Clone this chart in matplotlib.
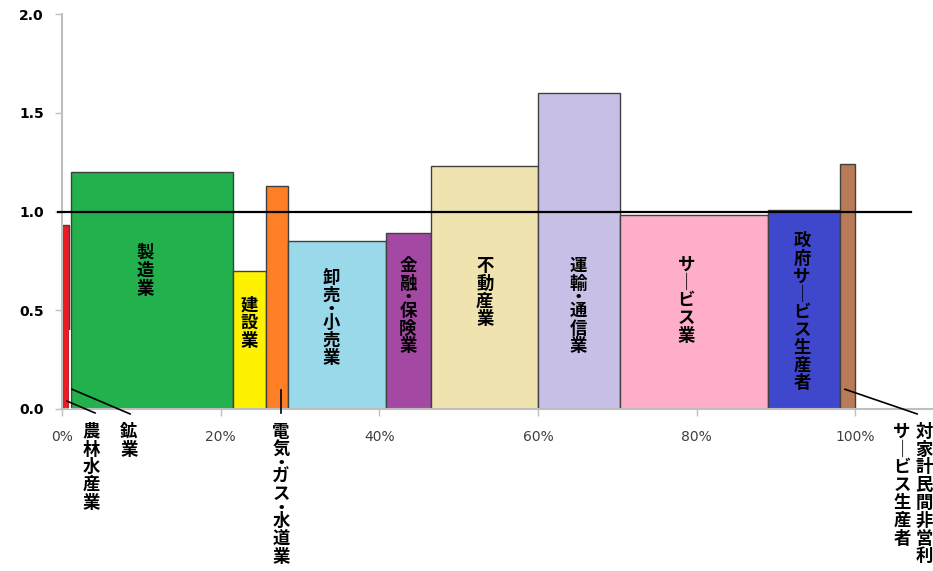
import numpy as np
import matplotlib
matplotlib.use("Agg")
import matplotlib.pyplot as plt

plt.rcParams["font.family"] = ["Noto Sans CJK JP", "DejaVu Sans"]

# industries, share of output (%), and ratio
industries = ["農林水産業", "鉱業", "製造業", "建設業", "電気・ガス・水道業", "卸売・小売業",
              "金融・保険業", "不動産業", "運輸・通信業", "サービス業", "政府サービス生産者",
              "対家計民間非営利サービス生産者"]
shares = [0.92, 0.21, 20.40, 4.20, 2.81, 12.32, 5.63, 13.57, 10.31, 18.66, 9.08, 1.89]
ratios = [0.93, 0.40, 1.20, 0.70, 1.13, 0.85, 0.89, 1.23, 1.60, 0.98, 1.01, 1.24]
colors = ["#ED1C24", "#FFFFFF", "#22B14C", "#FFF200", "#FF7F27", "#99D9EA",
          "#A349A4", "#EFE4B0", "#C8BFE7", "#FFAEC9", "#3F48CC", "#B97A57"]

x_ticks = [0, 20, 40, 60, 80, 100]
y_ticks = [0.0, 0.5, 1.0, 1.5, 2.0]

STEP = 17.8 * 0.72   # points per character (1 px = 0.72 pt at dpi 100)
DOT_STEP = 9.0 * 0.72


def vtext(ax, x, y, s, anchor="center", size=12.5):
    """Draw s as vertical (tategaki) text, one character under the other."""
    s = s.replace("ー", "｜")
    steps = [DOT_STEP if ch == "・" else STEP for ch in s]
    total = sum(steps)
    pos = total / 2 if anchor == "center" else 0.0
    for ch, st in zip(s, steps):
        off = pos - st / 2
        ax.annotate(ch, xy=(x, y), xycoords="data", xytext=(0, off),
                    textcoords="offset points", ha="center", va="center",
                    fontsize=size, fontweight="bold", annotation_clip=False, zorder=6)
        pos -= st


fig = plt.figure(figsize=(9.33, 5.71), dpi=100)
ax = fig.add_axes((62 / 933, 162 / 571, 871 / 933, 395 / 571))

lefts = np.concatenate([[0], np.cumsum(shares)[:-1]])
for i, (l, w, h, c) in enumerate(zip(lefts, shares, ratios, colors)):
    if industries[i] == "鉱業":
        ax.bar(l, h, width=w, align="edge", color=c, edgecolor="none", zorder=3)
    else:
        ax.bar(l, h, width=w, align="edge", color=c, edgecolor="#404040",
               linewidth=1.0, zorder=2)

# reference line at 1.0
ax.plot([-0.5, 107], [1.0, 1.0], color="black", lw=1.6, zorder=4, clip_on=False)

# labels inside bars
inside = {"製造業": (10.5, 0.70), "建設業": (23.6, 0.435), "卸売・小売業": (33.9, 0.46),
          "金融・保険業": (43.6, 0.52), "不動産業": (53.3, 0.59), "運輸・通信業": (65.1, 0.52),
          "サービス業": (78.7, 0.55), "政府サービス生産者": (93.3, 0.49)}
for name, (x, y) in inside.items():
    vtext(ax, x, y, name)

# labels below axis with leader lines
below = {"農林水産業": 3.66, "鉱業": 8.45, "電気・ガス・水道業": 27.6,
         "サービス生産者": 105.9, "対家計民間非営利": 108.7}
for name, x in below.items():
    vtext(ax, x, -0.07, name, anchor="top")

leaders = [((0.63, 4.16), (0.04, -0.02)), ((1.26, 8.58), (0.10, -0.025)),
           ((27.6, 27.6), (0.096, -0.02)), ((98.7, 107.8), (0.10, -0.025))]
for xs, ys in leaders:
    ax.plot(xs, ys, color="black", lw=1.2, clip_on=False, zorder=6)

ax.set_xlim(0, 109.8)
ax.set_ylim(0, 2.0)
ax.set_xticks(x_ticks)
ax.set_xticklabels([f"{t}%" for t in x_ticks], fontsize=10, color="#404040",
                   family="DejaVu Sans")
ax.set_yticks(y_ticks)
ax.set_yticklabels([f"{t:.1f}" for t in y_ticks], fontsize=10, fontweight="bold",
                   family="DejaVu Sans")
ax.tick_params(axis="both", color="#BFBFBF", length=5, width=1)
ax.tick_params(axis="x", pad=10)
ax.tick_params(axis="y", pad=8)
for s in ["top", "right"]:
    ax.spines[s].set_visible(False)
for s in ["left", "bottom"]:
    ax.spines[s].set_color("#BFBFBF")
    ax.spines[s].set_linewidth(1.5)

fig.savefig("out.png", dpi=100)
